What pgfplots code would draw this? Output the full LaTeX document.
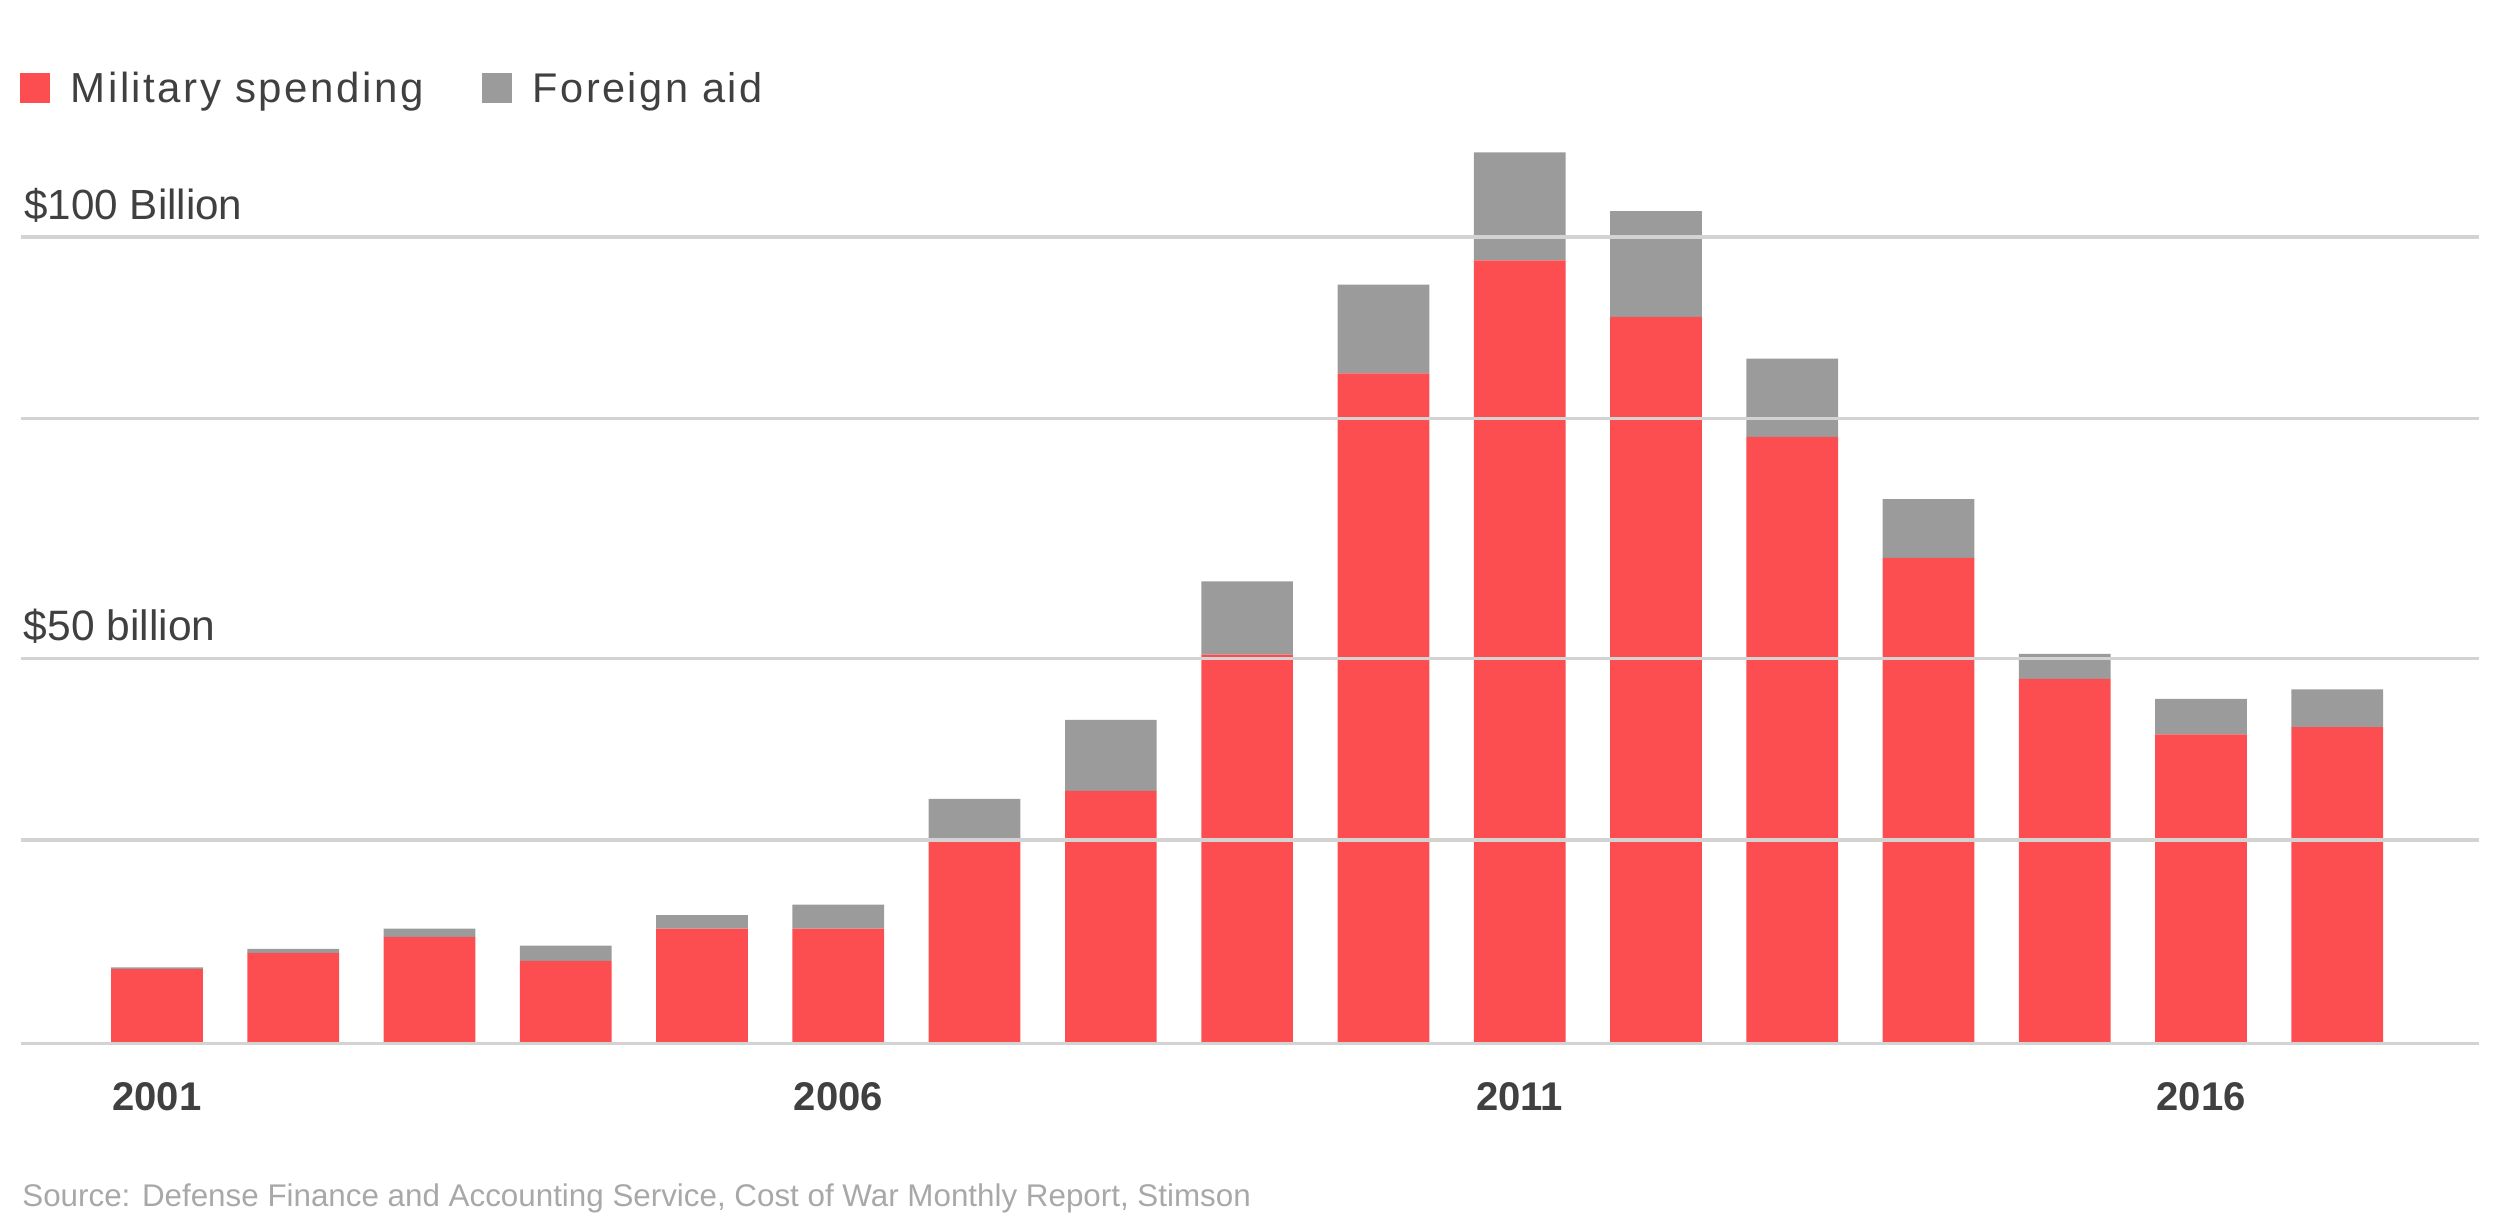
\documentclass[border=0pt]{standalone}
\usepackage{fontspec}
\setmainfont{Liberation Sans}
\newfontfamily\legfont[LetterSpace=6]{Liberation Sans}
\usepackage{pgfplots}
\pgfplotsset{compat=1.18}
\definecolor{barred}{RGB}{252,78,80}
\definecolor{bargray}{RGB}{155,155,155}
\definecolor{gridc}{RGB}{211,211,211}
\definecolor{txt}{RGB}{64,64,64}
\definecolor{src}{RGB}{168,168,171}
\begin{document}
\begin{tikzpicture}[x=1cm,y=1cm]
\path[use as bounding box] (-0.207,-1.868) rectangle (24.793,10.432);
\begin{axis}[
  at={(0,0)}, anchor=south west,
  scale only axis, width=24.583cm, height=9.271cm,
  xmin=2000, xmax=2018.04, ymin=0, ymax=115,
  ybar stacked, bar width=0.917cm,
  axis line style={draw=none}, major tick length=0pt,
  xtick={2001,2006,2011,2016}, xticklabels={2001,2006,2011,2016},
  xticklabel style={font=\fontsize{11.4pt}{13pt}\selectfont\bfseries, text=txt, anchor=base, yshift=-0.678cm},
  ytick={0,25.2,47.7,77.5,100}, yticklabels={},
  ymajorgrids, grid style={draw=gridc, line width=0.94pt},
  axis on top,
  clip=false,
]
\addplot[fill=barred, draw=none] coordinates {
(2001,9.2) (2002,11.2) (2003,13.2) (2004,10.2) (2005,14.2) (2006,14.2) (2007,25.2) (2008,31.3) (2009,48.2)
(2010,83.1) (2011,97.1) (2012,90.1) (2013,75.2) (2014,60.2) (2015,45.2) (2016,38.3) (2017,39.2)};
\addplot[fill=bargray, draw=none] coordinates {
(2001,0.2) (2002,0.5) (2003,1.0) (2004,1.9) (2005,1.7) (2006,3.0) (2007,5.1) (2008,8.8) (2009,9.1)
(2010,11.0) (2011,13.4) (2012,13.1) (2013,9.7) (2014,7.3) (2015,3.1) (2016,4.4) (2017,4.7)};
\node[anchor=base west, inner sep=0pt, text=txt, font=\fontsize{12.0pt}{14pt}\selectfont] at (axis cs:2000,100) [yshift=0.173cm, xshift=0.03cm] {\$100 Billion};
\node[anchor=base west, inner sep=0pt, text=txt, font=\fontsize{12.1pt}{14pt}\selectfont] at (axis cs:2000,47.7) [yshift=0.186cm, xshift=0.025cm] {\$50 billion};
\end{axis}
\fill[barred] (-0.007,9.405) rectangle (0.293,9.705);
\node[anchor=base west, inner sep=0pt, text=txt, font=\legfont\fontsize{11.95pt}{14pt}\selectfont] at (0.493,9.405) {Military spending};
\fill[bargray] (4.613,9.405) rectangle (4.913,9.705);
\node[anchor=base west, inner sep=0pt, text=txt, font=\legfont\fontsize{11.8pt}{14pt}\selectfont] at (5.113,9.405) {Foreign aid};
\node[anchor=base west, inner sep=0pt, text=src, font=\fontsize{8.92pt}{10pt}\selectfont] at (0.01,-1.635) {Source: Defense Finance and Accounting Service, Cost of War Monthly Report, Stimson};
\end{tikzpicture}
\end{document}
